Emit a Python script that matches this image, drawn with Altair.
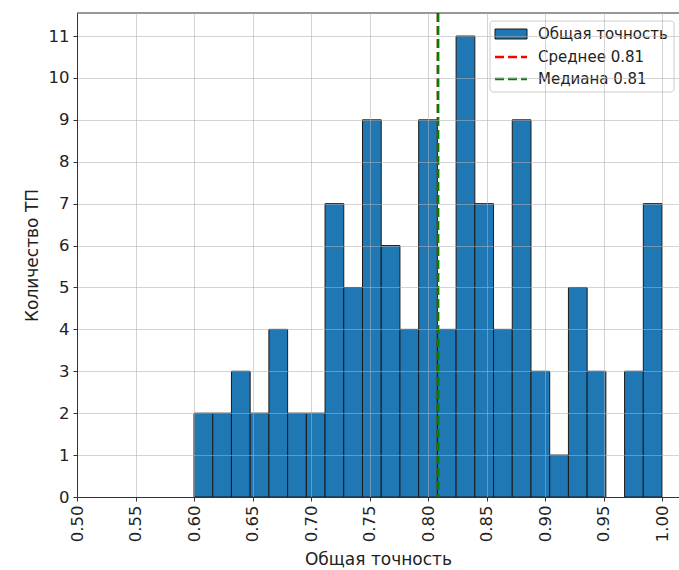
import altair as alt
import pandas as pd
import numpy as np

# ---- data ----
counts = [2, 2, 3, 2, 4, 2, 2, 7, 5, 9, 6, 4, 9, 4, 11, 7, 4, 9, 3, 1, 5, 3, 0, 3, 7]
bin_lo = 0.60
bin_hi = 1.00
mean_value = 0.8085
median_value = 0.8085
x_ticks = [0.50, 0.55, 0.60, 0.65, 0.70, 0.75, 0.80, 0.85, 0.90, 0.95, 1.00]
y_ticks = list(range(12))
legend_labels = ["Общая точность", "Среднее 0.81", "Медиана 0.81"]
x_title = "Общая точность"
y_title = "Количество ТП"

edges = np.linspace(bin_lo, bin_hi, len(counts) + 1)
df = pd.DataFrame({"start": edges[:-1], "end": edges[1:], "count": counts})
df = df[df["count"] > 0]
df["base"] = 0

W, H = 602, 484
FONT = "DejaVu Sans"
BLUE = "#1f77b4"

xscale = alt.Scale(domain=[0.5, 1.0145], nice=False, zero=False)
yscale = alt.Scale(domain=[0, 11.55], nice=False, zero=True)

xaxis = alt.Axis(values=x_ticks, format=".2f", labelAngle=-90, labelAlign="right",
                 labelBaseline="middle", title=x_title, titlePadding=10, labelPadding=4,
                 zindex=1, grid=True)
yaxis = alt.Axis(values=y_ticks, format="d", title=y_title, titlePadding=7,
                 labelPadding=4, zindex=1, grid=True)

bars = alt.Chart(df).mark_bar(color=BLUE, stroke="#1a1a1a", strokeWidth=1).encode(
    x=alt.X("start:Q", scale=xscale, axis=xaxis),
    x2="end:Q",
    y=alt.Y("count:Q", scale=yscale, axis=yaxis),
    y2="base:Q",
)

mean_rule = alt.Chart(pd.DataFrame({"start": [mean_value]})).mark_rule(
    color="red", strokeDash=[9, 4], strokeWidth=2.5
).encode(x=alt.X("start:Q", scale=xscale, axis=xaxis))

median_rule = alt.Chart(pd.DataFrame({"start": [median_value]})).mark_rule(
    color="green", strokeDash=[9, 4], strokeWidth=2.5
).encode(x=alt.X("start:Q", scale=xscale, axis=xaxis))

one = pd.DataFrame({"a": [0]})
top_frame = alt.Chart(one).mark_rule(color="#333333", strokeWidth=1).encode(
    x=alt.value(0), x2=alt.value(W), y=alt.value(0))

legend_box = alt.Chart(one).mark_rect(
    fill="white", fillOpacity=0.85, stroke="#cccccc", strokeWidth=1, cornerRadius=3
).encode(x=alt.value(413), x2=alt.value(597), y=alt.value(8), y2=alt.value(79))

legend_patch = alt.Chart(one).mark_rect(
    fill=BLUE, stroke="#1a1a1a", strokeWidth=1
).encode(x=alt.value(418), x2=alt.value(450), y=alt.value(16), y2=alt.value(26))

legend_red = alt.Chart(one).mark_rule(color="red", strokeDash=[9, 4], strokeWidth=2.5).encode(
    x=alt.value(418), x2=alt.value(450), y=alt.value(44))
legend_green = alt.Chart(one).mark_rule(color="green", strokeDash=[9, 4], strokeWidth=2.5).encode(
    x=alt.value(418), x2=alt.value(450), y=alt.value(66))

legend_texts = []
for lbl, yy in zip(legend_labels, [21, 44, 66]):
    legend_texts.append(
        alt.Chart(pd.DataFrame({"label": [lbl]})).mark_text(
            align="left", baseline="middle", font=FONT, fontSize=15, color="#222222"
        ).encode(text="label:N", x=alt.value(461), y=alt.value(yy))
    )

chart = alt.layer(
    bars, mean_rule, median_rule, top_frame, legend_box, legend_patch, legend_red,
    legend_green, *legend_texts
).properties(
    width=W, height=H,
    autosize=alt.AutoSizeParams(type="none"),
    padding={"left": 77, "top": 13, "right": 0, "bottom": 73},
    background="white",
).configure_view(
    stroke="transparent"
).configure_axis(
    domainColor="#333333", tickColor="#333333", tickSize=4,
    labelColor="#222222", titleColor="#222222",
    labelFont=FONT, titleFont=FONT, labelFontSize=16.5, titleFontSize=17,
    titleFontWeight="normal",
    gridColor="#b0b0b0", gridOpacity=0.55, gridWidth=1,
)

chart.save("out.html", embed_options={"renderer": "svg", "actions": False})
